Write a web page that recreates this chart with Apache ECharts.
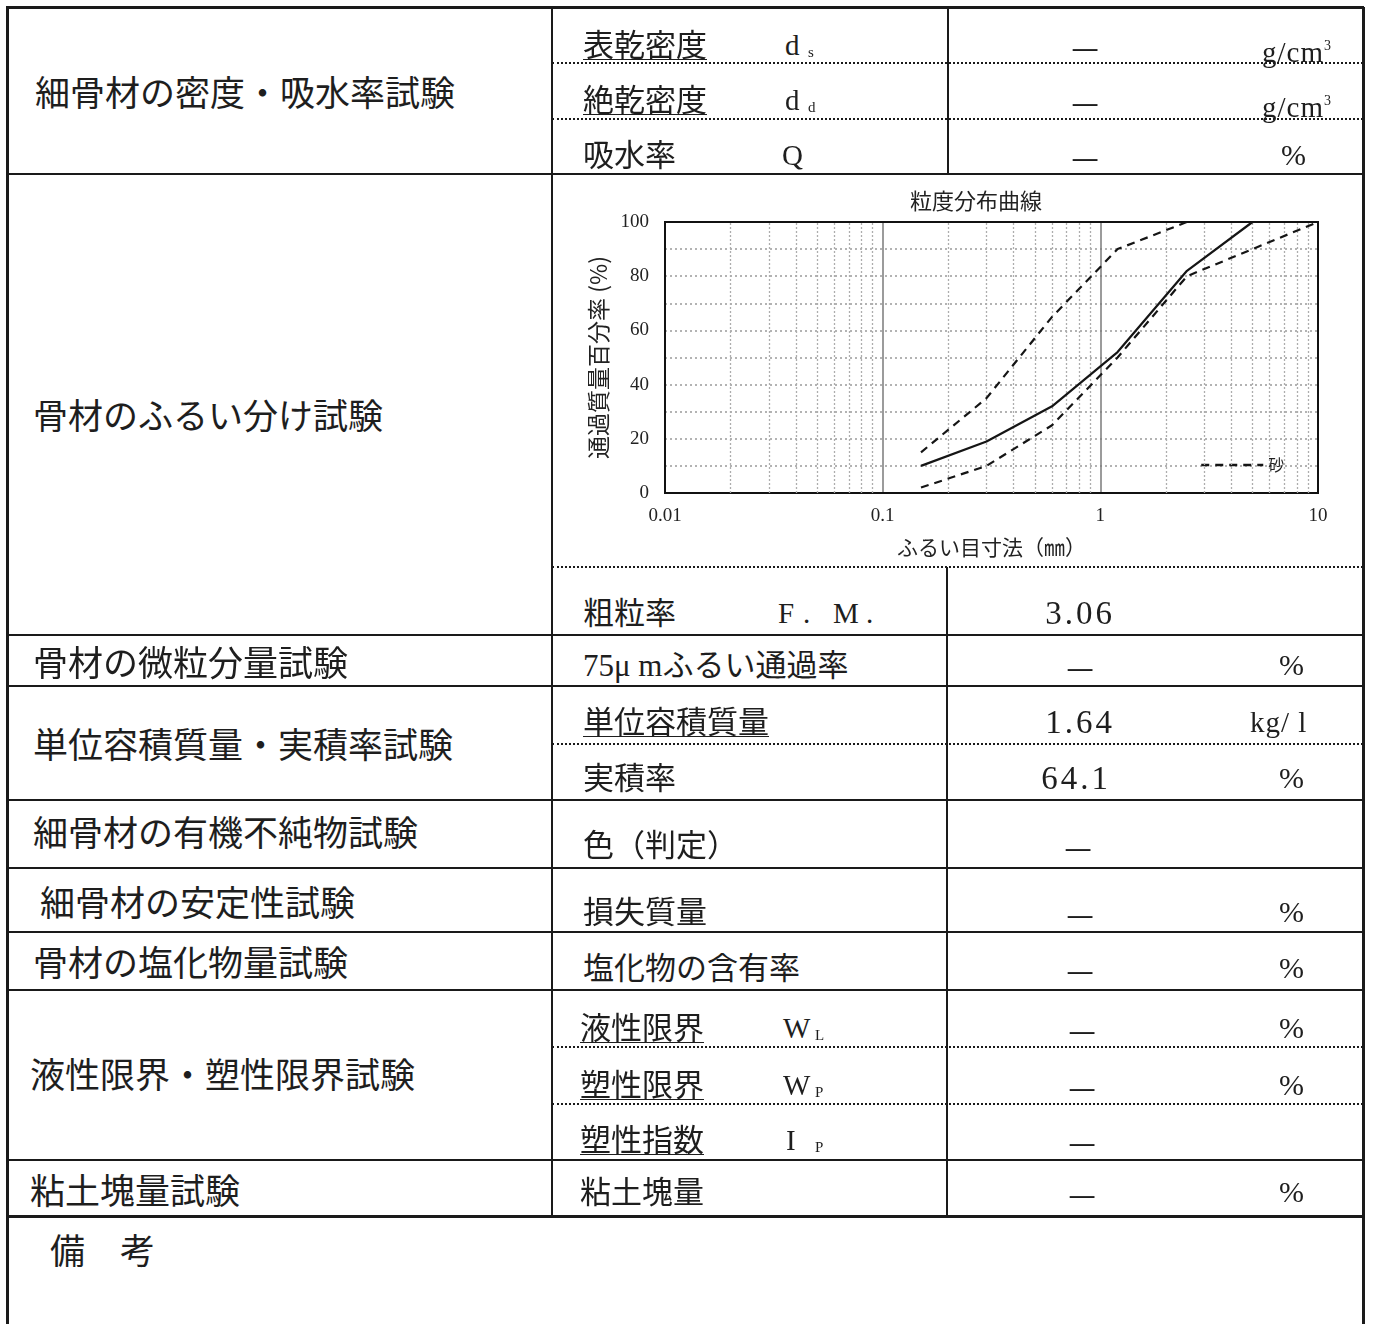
<!DOCTYPE html>
<html><head><meta charset="utf-8">
<script src="https://cdn.jsdelivr.net/npm/echarts@6/dist/echarts.min.js"></script>
<style>
html,body{margin:0;padding:0;background:#fff;}
#page{position:relative;width:1376px;height:1324px;overflow:hidden;background:#fff;font-family:"Liberation Serif","Noto Sans CJK JP",serif;color:#1e1e1e;}
.ln{position:absolute;}
.t{position:absolute;white-space:nowrap;}
#chart{position:absolute;left:555px;top:175px;width:808px;height:392px;}
</style></head><body><div id="page"><div id="chart"></div></div>
<script>
// ---- chart data ----
const sieveMm = [0.15, 0.3, 0.6, 1.2, 2.5, 5, 10];
const samplePassing = [10, 19, 32, 52, 82, 100, null];
const upperLimit = [15, 35, 65, 90, 100, null, null];
const lowerLimit = [2, 10, 25, 50, 80, 90, 100];
const xTickLabels = ['0.01', '0.1', '1', '10'];
const minorGridX = [0.02,0.03,0.04,0.05,0.06,0.07,0.08,0.09,0.2,0.3,0.4,0.5,0.6,0.7,0.8,0.9,2,3,4,5,6,7,8,9];

// ---- table text ----
const sectionNames = ['細骨材の密度・吸水率試験','骨材のふるい分け試験','骨材の微粒分量試験','単位容積質量・実積率試験','細骨材の有機不純物試験','細骨材の安定性試験','骨材の塩化物量試験','液性限界・塑性限界試験','粘土塊量試験','備　考'];
const itemNames = ['表乾密度','絶乾密度','吸水率','粗粒率','75μ mふるい通過率','単位容積質量','実積率','色（判定）','損失質量','塩化物の含有率','液性限界','塑性限界','塑性指数','粘土塊量'];
const resultValues = ['3.06','1.64','64.1'];

const page = document.getElementById('page');
function H(x1,x2,y,w,st){const d=document.createElement('div');d.className='ln';d.style.cssText=`left:${x1}px;top:${y-w/2}px;width:${x2-x1}px;height:0;border-top:${w}px ${st||'solid'} #1a1a1a;`;page.appendChild(d);}
function V(x,y1,y2,w){const d=document.createElement('div');d.className='ln';d.style.cssText=`left:${x-w/2}px;top:${y1}px;height:${y2-y1}px;width:0;border-left:${w}px solid #1a1a1a;`;page.appendChild(d);}
function T(x,cy,html,size,o){o=o||{};const d=document.createElement('div');d.className='t';d.innerHTML=html;
 let s=`top:${cy-size/2}px;font-size:${size}px;line-height:${size}px;`;
 if(o.family)s+=`font-family:${o.family};`;
 if(o.ls)s+=`letter-spacing:${o.ls}px;`;
 if(o.u)s+='text-decoration:underline;text-decoration-thickness:1px;text-underline-offset:3px;';
 if(o.align==='center'){s+=`left:${x-200}px;width:400px;text-align:center;`;}else{s+=`left:${x}px;`;}
 d.style.cssText=s;page.appendChild(d);}

// borders
V(7,7,1324,3); V(1363,7,1324,3); H(6,1364,7,3);
V(552,7,1216,2); V(948,7,174,2); V(947,567,1216,2);
[174,635,686,800,868,932,990,1160].forEach(y=>H(7,1363,y,2));
H(7,1363,1216,3);
[63,119,567,744,1047,1104].forEach(y=>H(552,1363,y,2,'dotted'));

const JP='"Noto Sans CJK JP"';
const secPos=[[35,90],[33,413],[33,660],[33,742],[33,830],[40,900],[33,960],[30,1072],[30,1188],[50,1248]];
sectionNames.forEach((s,i)=>T(secPos[i][0],secPos[i][1],s,35,{family:JP}));
const itemPos=[[583,45,1],[583,100,1],[583,155],[583,613],[583,665],[583,722,1],[583,778],[583,845],[583,912],[583,968],[580,1028,1],[580,1085,1],[580,1140,1],[580,1192]];
itemNames.forEach((s,i)=>T(itemPos[i][0],itemPos[i][1],s,31,{family:'"Liberation Serif","Noto Sans CJK JP"',u:!!itemPos[i][2]}));

// symbols
T(785,45,'d',29); T(808,52,'s',15);
T(785,100,'d',29); T(808,107,'d',15);
T(782,155,'Q',29);
T(778,613,'F',29); T(803,613,'.',29); T(833,613,'M',29); T(866,613,'.',29);
T(783,1028,'W',29); T(815,1035,'L',15);
T(783,1085,'W',29); T(815,1092,'P',15);
T(786,1140,'I',29); T(815,1147,'P',15);

// dashes
[[1085,45],[1085,100],[1085,155],[1080,665],[1078,845],[1080,912],[1080,968],[1082,1028],[1082,1085],[1082,1140],[1082,1192]].forEach(p=>T(p[0],p[1],'—',31,{family:JP,align:'center'}));
// values
T(1080,613,resultValues[0],33,{align:'center',ls:3});
T(1080,722,resultValues[1],33,{align:'center',ls:3});
T(1076,778,resultValues[2],33,{align:'center',ls:3});
// units
T(1262,45,'g/cm<sup style="font-size:14px;vertical-align:12px;">3</sup>',29,{ls:1});
T(1262,100,'g/cm<sup style="font-size:14px;vertical-align:12px;">3</sup>',29,{ls:1});
[[1281,155],[1279,665],[1279,778],[1279,912],[1279,968],[1279,1028],[1279,1085],[1279,1192]].forEach(p=>T(p[0],p[1],'%',30));
T(1250,722,'kg/ l',29,{ls:1});

// ---- chart ----
function pairs(vals){const out=[];sieveMm.forEach((x,i)=>{if(vals[i]!=null)out.push([x,vals[i]]);});return out;}
const chart = echarts.init(document.getElementById('chart'), null, {renderer:'canvas'});
const ink='#151515';
chart.setOption({
  animation:false,
  backgroundColor:'#fff',
  title:{text:'粒度分布曲線',left:350,top:10,textStyle:{fontFamily:'Noto Sans CJK JP',fontSize:22,fontWeight:'normal',color:'#222'}},
  grid:{left:110,top:47,width:653,height:271,show:true,borderColor:'#111',borderWidth:2,z:3},
  legend:{data:['砂'],left:645,top:282,padding:0,itemWidth:62,itemHeight:14,itemGap:4,
    itemStyle:{opacity:0},lineStyle:{width:2.5},
    textStyle:{fontFamily:'Noto Sans CJK JP',fontSize:16,color:'#222'}},
  xAxis:{type:'log',logBase:10,min:0.01,max:10,
    name:'ふるい目寸法（㎜）',nameLocation:'middle',nameGap:44,nameTextStyle:{fontFamily:'Noto Sans CJK JP',fontSize:21,color:'#222'},
    axisLine:{show:false},axisTick:{show:false},
    axisLabel:{margin:14,fontFamily:'Liberation Serif',fontSize:19,color:'#222',formatter:(v,i)=>xTickLabels[i]},
    splitLine:{show:true,lineStyle:{color:'#7a7a7a',width:1.5}}},
  yAxis:{type:'value',min:0,max:100,interval:10,
    name:'通過質量百分率 (%)',nameLocation:'middle',nameGap:55,nameRotate:90,nameTextStyle:{fontFamily:'Noto Sans CJK JP',fontSize:23,color:'#222'},
    axisLine:{show:false},axisTick:{show:false},
    axisLabel:{margin:16,fontFamily:'Liberation Serif',fontSize:19,color:'#222',formatter:v=>(v%20===0?String(v):'')},
    splitLine:{show:true,lineStyle:{color:'#9a9a9a',width:1.5,type:[2,3]}}},
  series:[
    {type:'line',name:'grid',data:[[0.01,0]],symbol:'none',lineStyle:{opacity:0},silent:true,z:1,
     markLine:{silent:true,symbol:['none','none'],label:{show:false},animation:false,
       lineStyle:{color:'#adadad',width:1.3,type:[2,2]},data:minorGridX.map(v=>({xAxis:v}))}},
    {type:'line',name:'試料',data:pairs(samplePassing),symbol:'none',lineStyle:{color:ink,width:2.2},z:5},
    {type:'line',name:'砂',data:pairs(upperLimit),symbol:'none',lineStyle:{color:ink,width:2.2,type:[8,6]},z:5},
    {type:'line',name:'砂',data:pairs(lowerLimit),symbol:'none',lineStyle:{color:ink,width:2.2,type:[8,6]},z:5}
  ]
});
</script></body></html>
